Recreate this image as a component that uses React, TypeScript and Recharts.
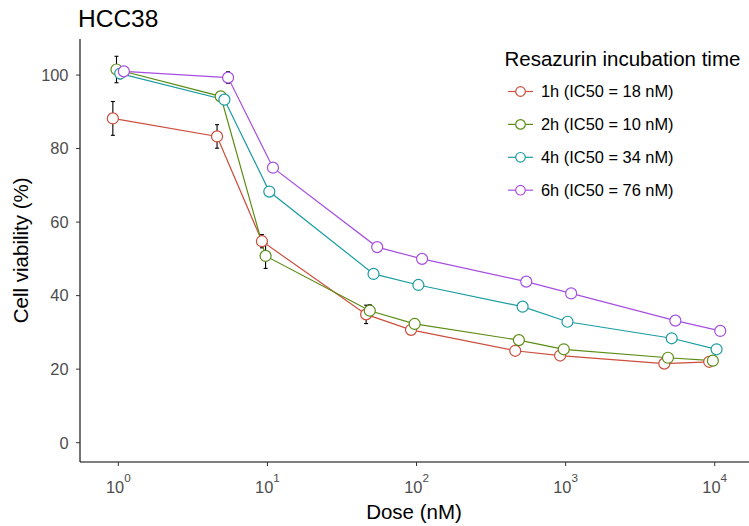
import React from 'react';
import { LineChart, Line, XAxis, YAxis, ErrorBar } from 'recharts';

const FONT = '"Liberation Sans", Arial, Helvetica, sans-serif';

// ---- data ----
const doses = [1, 5, 10, 50, 100, 500, 1000, 5000, 10000];
const seriesNames = ['1h (IC50 = 18 nM)', '2h (IC50 = 10 nM)', '4h (IC50 = 34 nM)', '6h (IC50 = 76 nM)'];
const v1h = [88.2, 83.3, 54.8, 34.9, 30.7, 25.0, 23.7, 21.5, 22.0];
const v2h = [101.5, 94.2, 50.8, 35.9, 32.3, 27.9, 25.4, 23.1, 22.3];
const v4h = [100.4, 93.3, 68.3, 45.9, 42.9, 37.0, 32.9, 28.4, 25.4];
const v6h = [101.0, 99.3, 74.8, 53.2, 50.0, 43.8, 40.6, 33.2, 30.4];
const e1h = [4.6, 3.2, 1.8, 2.5, 1.2, 1.0, 1.0, 0.8, 0.8];
const e2h = [3.6, 1.0, 3.4, 1.6, 1.0, 1.0, 0.8, 0.8, 0.6];
const e4h = [1.4, 1.2, 1.2, 1.0, 0.8, 1.0, 0.8, 0.8, 0.6];
const e6h = [1.0, 1.6, 1.2, 1.0, 1.0, 1.0, 0.8, 0.8, 0.6];
const xTicks = [1, 10, 100, 1000, 10000];
const yTicks = [0, 20, 40, 60, 80, 100];

// ---- styling ----
const COLORS = ['#CC4E3C', '#5A8C14', '#1A9CA3', '#A64FE0'];
const DODGE = [-0.037, -0.0125, 0.0125, 0.037]; // log10 dodge offsets (position_dodge)

const allValues = [v1h, v2h, v4h, v6h];
const allErrors = [e1h, e2h, e4h, e6h];

const series = seriesNames.map((name, k) => ({
  name,
  color: COLORS[k],
  data: doses.map((d, i) => ({
    dose: d * Math.pow(10, DODGE[k]),
    v: allValues[k][i],
    err: allErrors[k][i],
  })),
}));

const PowerTick = (props: any) => {
  const { x, y, payload } = props;
  const exp = Math.round(Math.log10(payload.value));
  return (
    <text x={x} y={y + 26.5} textAnchor="middle" fill="#4D4D4D" fontSize={16.4} fontFamily={FONT}>
      <tspan>10</tspan>
      <tspan dy={-11} fontSize={11.7}>{exp}</tspan>
    </text>
  );
};

export default function App() {
  return (
    <div style={{ position: 'absolute', left: 0, top: 0, width: 749, height: 526, background: '#fff' }}>
      <LineChart width={749} height={526} margin={{ top: 39, right: 0, bottom: 0, left: 0 }}>
        <XAxis
          dataKey="dose"
          type="number"
          scale="log"
          domain={[0.553, 16980]}
          allowDataOverflow
          ticks={xTicks}
          tick={<PowerTick />}
          tickSize={4}
          tickMargin={0}
          height={64}
          axisLine={{ stroke: '#000', strokeWidth: 1.1 }}
          tickLine={{ stroke: '#333', strokeWidth: 1 }}
        />
        <YAxis
          type="number"
          domain={[-5.25, 109.8]}
          allowDataOverflow
          ticks={yTicks}
          width={80}
          tickSize={4}
          tickMargin={7.5}
          tick={{ fill: '#4D4D4D', fontSize: 16.4, fontFamily: FONT }}
          axisLine={{ stroke: '#000', strokeWidth: 1.1 }}
          tickLine={{ stroke: '#333', strokeWidth: 1 }}
        />
        {series.map((s) => (
          <Line
            key={'line-' + s.name}
            data={s.data}
            dataKey="v"
            name={s.name}
            stroke={s.color}
            strokeWidth={1.2}
            dot={false}
            activeDot={false}
            isAnimationActive={false}
          >
            <ErrorBar dataKey="err" width={2} stroke="#000" strokeWidth={1.1} direction="y" />
          </Line>
        ))}
        {series.map((s) => (
          <Line
            key={'pts-' + s.name}
            data={s.data}
            dataKey="v"
            stroke="none"
            legendType="none"
            dot={{ r: 5.5, fill: '#fff', stroke: s.color, strokeWidth: 1.2 }}
            activeDot={false}
            isAnimationActive={false}
          />
        ))}
      </LineChart>
      <svg
        width={749}
        height={526}
        style={{ position: 'absolute', left: 0, top: 0, pointerEvents: 'none' }}
        fontFamily={FONT}
      >
        <text x={78} y={26.7} fontSize={24.5} fill="#000">HCC38</text>
        <text
          x={28.5}
          y={250.3}
          fontSize={20.5}
          fill="#000"
          textAnchor="middle"
          transform="rotate(-90, 28.5, 250.3)"
        >
          Cell viability (%)
        </text>
        <text x={414} y={519.3} fontSize={20.5} fill="#000" textAnchor="middle">Dose (nM)</text>
        <text x={504.5} y={66} fontSize={20.5} fill="#000">Resazurin incubation time</text>
        {series.map((s, i) => {
          const cy = 91.5 + i * 32.9;
          return (
            <g key={'leg-' + s.name}>
              <line x1={508} x2={533} y1={cy} y2={cy} stroke={s.color} strokeWidth={1.2} />
              <circle cx={520.5} cy={cy} r={4.8} fill="#fff" stroke={s.color} strokeWidth={1.2} />
              <text x={541} y={cy + 5.8} fontSize={16.4} fill="#000">{s.name}</text>
            </g>
          );
        })}
      </svg>
    </div>
  );
}
